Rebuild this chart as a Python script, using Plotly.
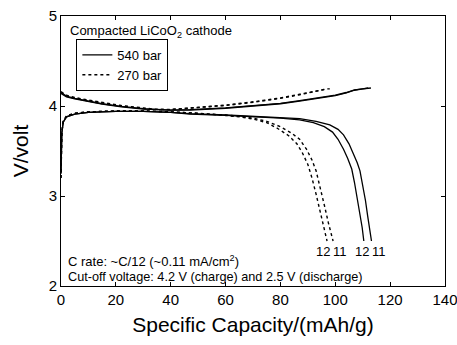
import plotly.graph_objects as go

# 540 bar charge curves (cycles 11, 12)
chg540_11_x = [0, 2, 5, 10, 15, 22, 30, 40, 47, 60, 71, 80, 87, 95, 100, 104, 107, 110, 113]
chg540_11_y = [4.14, 4.10, 4.08, 4.05, 4.02, 3.99, 3.965, 3.955, 3.96, 3.98, 4.01, 4.03, 4.06, 4.10, 4.12, 4.15, 4.18, 4.19, 4.20]
chg540_12_x = [0, 2, 5, 10, 15, 22, 30, 40, 47, 60, 71, 80, 87, 95, 100, 104, 107, 110, 112]
chg540_12_y = [4.15, 4.11, 4.085, 4.055, 4.025, 3.995, 3.97, 3.955, 3.955, 3.975, 4.005, 4.025, 4.055, 4.095, 4.115, 4.145, 4.175, 4.19, 4.20]

# 270 bar charge curves
chg270_11_x = [0, 2, 5, 10, 22, 34, 40, 47, 60, 71, 80, 87, 93, 97, 98]
chg270_11_y = [4.15, 4.11, 4.09, 4.06, 4.00, 3.96, 3.96, 3.98, 4.01, 4.05, 4.09, 4.13, 4.17, 4.19, 4.19]
chg270_12_x = [0, 2, 5, 10, 22, 34, 40, 47, 60, 71, 80, 87, 93, 96, 97]
chg270_12_y = [4.16, 4.12, 4.095, 4.065, 4.005, 3.965, 3.962, 3.975, 4.005, 4.045, 4.085, 4.125, 4.165, 4.185, 4.19]

# 540 bar discharge curves
dis540_11_x = [0, 0.3, 0.8, 2, 5, 10, 20, 30, 40, 47, 60, 71, 80, 87, 93, 98, 101, 103, 105, 106.5, 108, 109, 110, 111, 111.8, 112.6, 113.2]
dis540_11_y = [3.25, 3.70, 3.82, 3.88, 3.91, 3.93, 3.94, 3.94, 3.93, 3.915, 3.90, 3.885, 3.875, 3.86, 3.83, 3.79, 3.74, 3.68, 3.58, 3.48, 3.37, 3.28, 3.12, 2.95, 2.78, 2.62, 2.50]
dis540_12_x = [0, 0.3, 0.8, 2, 5, 10, 20, 30, 40, 47, 60, 71, 80, 87, 92, 96, 99, 101, 103, 104.5, 106, 107, 108, 109, 109.8, 110.4]
dis540_12_y = [3.25, 3.70, 3.82, 3.88, 3.91, 3.93, 3.94, 3.94, 3.93, 3.91, 3.895, 3.88, 3.865, 3.845, 3.815, 3.77, 3.71, 3.63, 3.52, 3.42, 3.30, 3.15, 2.98, 2.80, 2.65, 2.50]

# 270 bar discharge curves
dis270_11_x = [0, 0.3, 0.8, 2, 5, 10, 20, 30, 40, 50, 60, 65, 70, 75, 80, 84, 87, 89.5, 91.5, 93, 94.5, 96, 97.5, 99.2]
dis270_11_y = [3.20, 3.70, 3.83, 3.89, 3.92, 3.935, 3.945, 3.945, 3.935, 3.92, 3.90, 3.885, 3.865, 3.83, 3.77, 3.70, 3.63, 3.52, 3.40, 3.28, 3.10, 2.90, 2.70, 2.50]
dis270_12_x = [0, 0.3, 0.8, 2, 5, 10, 20, 30, 40, 50, 60, 65, 70, 75, 79, 83, 86, 88, 90, 91.5, 93, 94.5, 96, 97]
dis270_12_y = [3.20, 3.70, 3.83, 3.89, 3.92, 3.935, 3.945, 3.945, 3.935, 3.92, 3.895, 3.88, 3.855, 3.815, 3.75, 3.67, 3.58, 3.48, 3.35, 3.20, 3.02, 2.82, 2.65, 2.50]

x_ticks = [0, 20, 40, 60, 80, 100, 120, 140]
y_ticks = [2, 3, 4, 5]

cycle_labels = [("12", 95.6), ("11", 101.6), ("12", 109.8), ("11", 115.8)]

FONT = "Liberation Sans, Arial, sans-serif"
fig = go.Figure()

solid = dict(color="black", width=1.3)
dotted = dict(color="black", width=1.4, dash="dot")

fig.add_trace(go.Scatter(x=chg540_11_x, y=chg540_11_y, mode="lines", line=solid, name="540 bar", showlegend=True))
fig.add_trace(go.Scatter(x=chg540_12_x, y=chg540_12_y, mode="lines", line=solid, showlegend=False))
fig.add_trace(go.Scatter(x=dis540_11_x, y=dis540_11_y, mode="lines", line=solid, showlegend=False))
fig.add_trace(go.Scatter(x=dis540_12_x, y=dis540_12_y, mode="lines", line=solid, showlegend=False))
fig.add_trace(go.Scatter(x=chg270_11_x, y=chg270_11_y, mode="lines", line=dotted, name="270 bar", showlegend=True))
fig.add_trace(go.Scatter(x=chg270_12_x, y=chg270_12_y, mode="lines", line=dotted, showlegend=False))
fig.add_trace(go.Scatter(x=dis270_11_x, y=dis270_11_y, mode="lines", line=dotted, showlegend=False))
fig.add_trace(go.Scatter(x=dis270_12_x, y=dis270_12_y, mode="lines", line=dotted, showlegend=False))

for txt, xv in cycle_labels:
    fig.add_annotation(x=xv, y=2.38, text=txt, showarrow=False, xanchor="center", yanchor="middle",
                       font=dict(family=FONT, size=13, color="black"))

fig.add_annotation(x=0.018, y=0.943, xref="paper", yref="paper", text="Compacted LiCoO<sub>2</sub> cathode",
                   showarrow=False, xanchor="left", yanchor="middle", font=dict(family=FONT, size=13, color="black"))
fig.add_annotation(x=2, y=2.275, text="C rate: ~C/12 (~0.11 mA/cm<sup>2</sup>)", showarrow=False,
                   xanchor="left", yanchor="middle", font=dict(family=FONT, size=13, color="black"))
fig.add_annotation(x=2, y=2.105, text="Cut-off voltage: 4.2 V (charge) and 2.5 V (discharge)", showarrow=False,
                   xanchor="left", yanchor="middle", font=dict(family=FONT, size=12.7, color="black"))

axis_common = dict(showline=True, linecolor="black", linewidth=1, mirror="ticks", ticks="inside",
                   ticklen=4, tickcolor="black", showgrid=False, zeroline=False, automargin=False,
                   ticklabeloverflow="allow",
                   tickfont=dict(family=FONT, size=15, color="black"))

fig.update_layout(
    width=457, height=345,
    margin=dict(l=61, r=12, t=16, b=59),
    paper_bgcolor="white", plot_bgcolor="white",
    xaxis=dict(range=[0, 140], tickvals=x_ticks,
               title=dict(text="Specific Capacity/(mAh/g)", font=dict(family=FONT, size=21, color="black"), standoff=10),
               **axis_common),
    yaxis=dict(range=[2, 5], tickvals=y_ticks,
               title=dict(text="V/volt", font=dict(family=FONT, size=21, color="black"), standoff=14),
               **axis_common),
    legend=dict(x=0.04, y=0.915, xanchor="left", yanchor="top", bordercolor="black", borderwidth=1,
                bgcolor="white", font=dict(family=FONT, size=13, color="black"),
                tracegroupgap=0, itemwidth=30),
    showlegend=True,
)

fig.write_html("out.html")
